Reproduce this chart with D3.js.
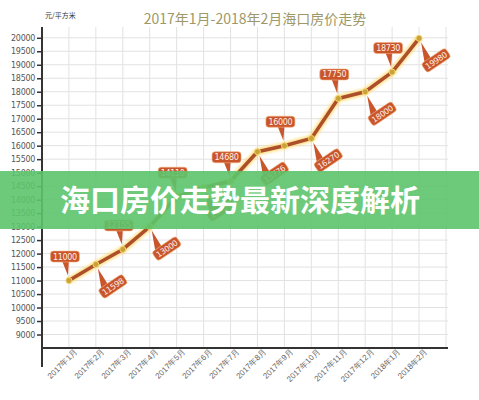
<!DOCTYPE html>
<html>
<head>
<meta charset="utf-8">
<script src="https://cdn.jsdelivr.net/npm/d3@7"></script>
<style>
  body { margin: 0; background: #fff; }
  svg { display: block; font-family: "Noto Sans CJK SC", "Noto Sans", sans-serif; }
</style>
</head>
<body>
<div id="host"><svg><defs></defs></svg></div>
<script>
const WIDTH = 479;
const HEIGHT = 400;

const MONTHS = [
  "2017年1月", "2017年2月", "2017年3月", "2017年4月", "2017年5月",
  "2017年6月", "2017年7月", "2017年8月", "2017年9月", "2017年10月",
  "2017年11月", "2017年12月", "2018年1月", "2018年2月",
];
const PRICES = [
  11000, 11598, 12155, 13000, 14110, 14450, 14680,
  15776, 16000, 16270, 17750, 18000, 18730, 19980,
];
// label placement per point: "up" = box above, "down" = tilted box below-right
const LABEL_SIDE = [
  "up", "down", "up", "down", "up", "down", "up",
  "down", "up", "down", "up", "down", "up", "down",
];
const Y_TICKS = [
  9000, 9500, 10000, 10500, 11000, 11500, 12000, 12500, 13000, 13500,
  14000, 14500, 15000, 15500, 16000, 16500, 17000, 17500, 18000,
  18500, 19000, 19500, 20000,
];

const TITLE = "2017年1月-2018年2月海口房价走势";
const UNIT = "元/平方米";
const BANNER = "海口房价走势最新深度解析";

const LINE = "#ad4f2b";
const LABEL_FILL = "#c9552c";
const GLOW = "#ffd04a";
const GRID = "#e2e2e2";

const LEFT = 42;
const RIGHT = 446;
const TOP = 27;
const BOTTOM = 348;

const x = d3.scalePoint().domain(MONTHS).range([LEFT, RIGHT]).padding(1);
const y = d3.scaleLinear().domain([8500, 20400]).range([BOTTOM, TOP]);

const svg = d3.select("#host svg").attr("width", WIDTH).attr("height", HEIGHT);
const defs = svg.select("defs");

const glow = defs.append("filter").attr("id", "glow")
  .attr("x", "-20%").attr("y", "-20%").attr("width", "140%").attr("height", "140%");
glow.append("feGaussianBlur").attr("stdDeviation", 1.4);

// grid
const grid = svg.append("g");
grid.selectAll("line.h")
  .data(Y_TICKS)
  .join("line")
  .attr("class", "h")
  .attr("x1", LEFT).attr("x2", RIGHT + 2)
  .attr("y1", (d) => y(d)).attr("y2", (d) => y(d))
  .attr("stroke", GRID).attr("stroke-width", 1);
grid.selectAll("line.v")
  .data(MONTHS.concat(["end"]))
  .join("line")
  .attr("class", "v")
  .attr("x1", (d) => (d === "end" ? RIGHT : x(d)))
  .attr("x2", (d) => (d === "end" ? RIGHT : x(d)))
  .attr("y1", TOP).attr("y2", BOTTOM)
  .attr("stroke", GRID).attr("stroke-width", 1);

// y axis
const yAxis = svg.append("g")
  .attr("transform", `translate(${LEFT},0)`)
  .call(d3.axisLeft(y).tickValues(Y_TICKS).tickSize(5).tickPadding(2).tickFormat(d3.format("d")));
yAxis.select(".domain").remove();
yAxis.selectAll(".tick line").attr("stroke", "#333").attr("stroke-width", 1.5);
yAxis.selectAll(".tick text")
  .attr("fill", "#555")
  .attr("font-size", 8)
  .attr("font-family", "DejaVu Sans, sans-serif")
  .attr("letter-spacing", -0.3);

svg.append("line")
  .attr("x1", LEFT).attr("x2", LEFT)
  .attr("y1", TOP).attr("y2", 367)
  .attr("stroke", "#333").attr("stroke-width", 2);

// x axis
const xAxis = svg.append("g")
  .attr("transform", `translate(0,${BOTTOM})`)
  .call(d3.axisBottom(x).tickSize(0).tickPadding(4));
xAxis.select(".domain").remove();
xAxis.selectAll(".tick text")
  .attr("fill", "#666")
  .attr("font-size", 8)
  .attr("text-anchor", "end")
  .attr("dx", "3")
  .attr("dy", "5")
  .attr("transform", "rotate(-45)");

svg.append("line")
  .attr("x1", LEFT - 1).attr("x2", RIGHT + 2)
  .attr("y1", BOTTOM).attr("y2", BOTTOM)
  .attr("stroke", "#333").attr("stroke-width", 2);

// title and unit
svg.append("text")
  .attr("x", 255).attr("y", 24)
  .attr("text-anchor", "middle")
  .attr("font-size", 14)
  .attr("fill", "#9e9868")
  .text(TITLE);
svg.append("text")
  .attr("x", 45).attr("y", 18)
  .attr("font-size", 7)
  .attr("fill", "#333")
  .text(UNIT);

// line
const data = MONTHS.map((m, i) => ({ month: m, value: PRICES[i], side: LABEL_SIDE[i] }));
const line = d3.line().x((d) => x(d.month)).y((d) => y(d.value));

svg.append("path")
  .datum(data)
  .attr("d", line)
  .attr("fill", "none")
  .attr("stroke", GLOW)
  .attr("stroke-width", 6.5)
  .attr("stroke-opacity", 0.7)
  .attr("stroke-linejoin", "round")
  .attr("filter", "url(#glow)");
svg.append("path")
  .datum(data)
  .attr("d", line)
  .attr("fill", "none")
  .attr("stroke", LINE)
  .attr("stroke-width", 3.5)
  .attr("stroke-linejoin", "round");

svg.append("g")
  .selectAll("circle")
  .data(data)
  .join("circle")
  .attr("cx", (d) => x(d.month))
  .attr("cy", (d) => y(d.value))
  .attr("r", 3)
  .attr("fill", "#c9a23a")
  .attr("stroke", "#f5d66a")
  .attr("stroke-width", 1);

// labels
const BOX_W = 29;
const BOX_H = 11;
const labels = svg.append("g")
  .selectAll("g")
  .data(data)
  .join("g");

labels.each(function (d) {
  const g = d3.select(this);
  const px = x(d.month);
  const py = y(d.value);
  if (d.side === "up") {
    const cx = px - 4;
    const cy = py - 24;
    g.append("path")
      .attr("d", `M${cx - 3},${cy + 4} L${cx + 4},${cy + 4} L${px - 1},${py - 5} Z`)
      .attr("fill", LABEL_FILL);
    g.append("rect")
      .attr("x", cx - BOX_W / 2).attr("y", cy - BOX_H / 2)
      .attr("width", BOX_W).attr("height", BOX_H)
      .attr("rx", 3)
      .attr("fill", LABEL_FILL)
      .attr("stroke", "#f3b07a").attr("stroke-width", 0.6);
    g.append("text")
      .attr("x", cx).attr("y", cy + 3)
      .attr("text-anchor", "middle")
      .attr("font-size", 8)
      .attr("font-family", "DejaVu Sans, sans-serif")
      .attr("letter-spacing", -0.3)
      .attr("fill", "#fff0e6")
      .text(d.value);
  } else {
    const gx = px + 17;
    const gy = py + 22;
    const a = (34 * Math.PI) / 180;
    const dx = px + 2 - gx;
    const dy = py + 4 - gy;
    const tx = dx * Math.cos(a) - dy * Math.sin(a);
    const ty = dx * Math.sin(a) + dy * Math.cos(a);
    const sub = g.append("g").attr("transform", `translate(${gx},${gy}) rotate(-34)`);
    sub.append("path")
      .attr("d", `M${-11},${-4} L${-3},${-4} L${tx},${ty} Z`)
      .attr("fill", LABEL_FILL);
    sub.append("rect")
      .attr("x", -BOX_W / 2).attr("y", -BOX_H / 2)
      .attr("width", BOX_W).attr("height", BOX_H)
      .attr("rx", 3)
      .attr("fill", LABEL_FILL)
      .attr("stroke", "#f3b07a").attr("stroke-width", 0.6);
    sub.append("text")
      .attr("x", 0).attr("y", 3)
      .attr("text-anchor", "middle")
      .attr("font-size", 8)
      .attr("font-family", "DejaVu Sans, sans-serif")
      .attr("letter-spacing", -0.3)
      .attr("fill", "#fff0e6")
      .text(d.value);
  }
});

// green banner overlay
svg.append("rect")
  .attr("x", 0).attr("y", 171)
  .attr("width", WIDTH).attr("height", 58)
  .attr("fill", "#5cc46c")
  .attr("fill-opacity", 0.9);
svg.append("text")
  .attr("x", 240).attr("y", 211)
  .attr("text-anchor", "middle")
  .attr("font-size", 30)
  .attr("font-weight", "bold")
  .attr("fill", "#fff")
  .text(BANNER);
</script>
</body>
</html>
